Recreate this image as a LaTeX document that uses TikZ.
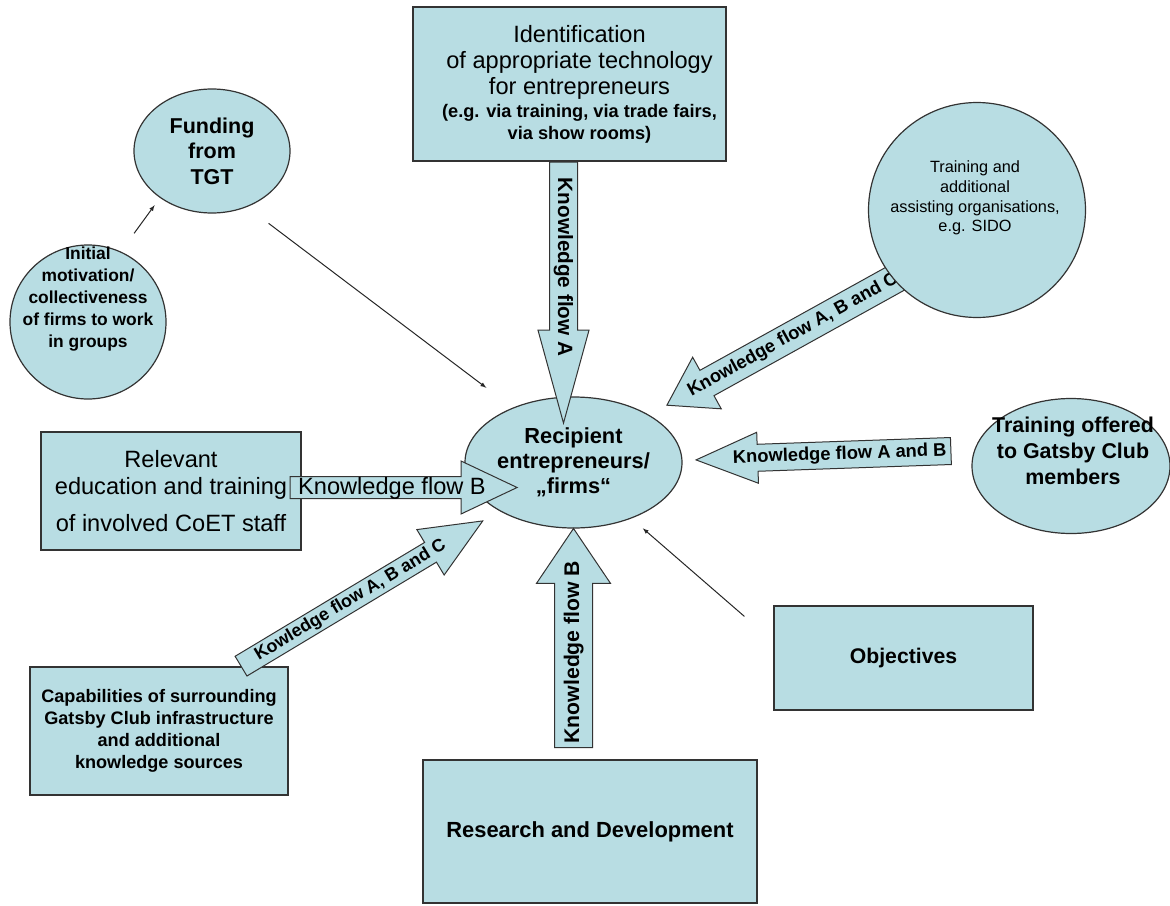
\documentclass[tikz,border=0pt]{standalone}
\usepackage{fontspec}
\setmainfont{Liberation Sans}
\usetikzlibrary{positioning,calc,shapes.geometric,shapes.arrows}
\definecolor{paleblue}{RGB}{184,221,227}
\newcommand{\fs}[2]{\fontsize{#1}{#2}\selectfont}

\begin{document}
\begin{tikzpicture}[x=1pt,y=-1pt,
	box/.style={draw=black!80,fill=paleblue,line width=1.2pt,align=center,inner sep=0pt},
	blob/.style={ellipse,draw=black!80,fill=paleblue,line width=1.2pt,align=center,inner sep=0pt},
	flow/.style={single arrow,draw=black!80,fill=paleblue,line width=1pt,inner xsep=2pt,anchor=tail},
	feed/.style={-latex,line width=1pt,black!85}]
		\useasboundingbox (0,0) rectangle (1170,905);
		
		\node[box,minimum width=313pt,minimum height=154pt] (ident) at (569.5,84) {};
		\node[shift={(10,0)},align=center,font=\fs{23.6}{26}] (identtxt) at (ident.center) {Identification\\ of appropriate technology\\ for entrepreneurs\\[-3pt] {\bfseries\fs{18.2}{22}(e.g. via training, via trade fairs,}\\[-4pt] {\bfseries\fs{18.2}{22}via show rooms)}};
		\node[blob,minimum width=156pt,minimum height=124pt,font=\bfseries\fs{21.5}{25.5}] (funding) at (212,151) {Funding\\ from\\ TGT};
		\node[blob,minimum width=156pt,minimum height=154pt] (initial) at (88,322) {};
		\node[shift={(0,-23)},align=center,font=\bfseries\fs{17.4}{22}] (initialtxt) at (initial.center) {Initial\\ motivation/\\ collectiveness\\ of firms to work\\ in groups};
		\node[blob,minimum width=217pt,minimum height=131pt,font=\bfseries\fs{21.8}{25}] (recip) at (573.5,462.5) {Recipient\\ entrepreneurs/\\ \char"201E firms\char"201C};
		\node[box,minimum width=260pt,minimum height=118pt,font=\fs{23.6}{27}] (relevant) at (171,491) {Relevant\\ education and training\\[10pt] of involved CoET staff};
		\node[blob,minimum width=198pt,minimum height=135pt] (train) at (1071,466) {};
		\node[shift={(2,-15)},align=center,font=\bfseries\fs{21.4}{26}] (traintxt) at (train.center) {Training offered\\ to Gatsby Club\\ members};
		\node[box,minimum width=259pt,minimum height=104pt,font=\bfseries\fs{21.2}{25}] (objectives) at (903.5,658) {Objectives};
		\node[box,minimum width=334pt,minimum height=143pt,font=\bfseries\fs{21.9}{25}] (rd) at (590,831.5) {Research and Development};
		\node[box,minimum width=258pt,minimum height=128pt,font=\bfseries\fs{18.1}{22}] (capab) at (159,731) {Capabilities of surrounding\\ Gatsby Club infrastructure\\ and additional\\ knowledge sources};
		
		% thin arrows
		\draw[feed,shorten <=22.5pt,shorten >=9pt] (initial.65) -- (funding.222);
		\draw[feed,shorten <=27pt,shorten >=33pt] (funding.-58) -- (recip.138);
		\draw[feed,shorten >=15pt] ([shift={(-29,11)}]objectives.north west) -- (recip.-44);
		
		% knowledge flows
		\node[flow,rotate=-90,font=\bfseries\fs{20.7}{24},text height=15pt,text depth=4pt,inner ysep=4pt,single arrow head extend=11.5pt,single arrow tip angle=30.7,minimum height=261pt] (flowA) at ([xshift=-6pt]ident.south) {Knowledge flow A};
		\node[flow,rotate=90,font=\bfseries\fs{21.2}{24},text height=15pt,text depth=4pt,inner ysep=9pt,single arrow head extend=18pt,single arrow tip angle=68,minimum height=219pt] (flowBup) at (573.5,748) {Knowledge flow B};
		\node[flow,font=\fs{23.6}{26},text height=16pt,text depth=2pt,inner ysep=1.5pt,single arrow head extend=15.5pt,single arrow tip angle=50.6,minimum height=227pt] (flowB) at ([xshift=-12pt,yshift=3.5pt]relevant.east) {Knowledge flow B};
		\node[flow,rotate=2,shape border rotate=180,font=\bfseries\fs{18.3}{22},text height=13pt,text depth=4pt,inner ysep=4.5pt,single arrow head extend=12pt,single arrow tip angle=45,minimum height=255pt] (flowAB) at ([xshift=-20pt,yshift=15pt]train.west) {Knowledge flow A and B};
		\node[flow,rotate=29,shape border rotate=180,font=\bfseries\fs{18.3}{22},text height=13pt,text depth=4pt,inner ysep=5.5pt,single arrow head extend=15pt,single arrow tip angle=65.6,minimum height=266pt] (flowABC) at (900,276) {Knowledge flow A, B and C};
		\node[flow,rotate=31,font=\bfseries\fs{17.8}{22},text height=13pt,text depth=4pt,inner ysep=2.5pt,single arrow head extend=15pt,single arrow tip angle=47,minimum height=282pt] (flowABC2) at ([xshift=-48pt]capab.north east) {Kowledge flow A, B and C};
		
		\node[blob,minimum width=217pt,minimum height=215pt] (sido) at (977,210) {};
		\node[shift={(-2,-12)},align=center,font=\fs{16.3}{19.7}] (sidotxt) at (sido.center) {Training and\\ additional\\ assisting organisations,\\ e.g. SIDO};
	\end{tikzpicture}
\end{document}
